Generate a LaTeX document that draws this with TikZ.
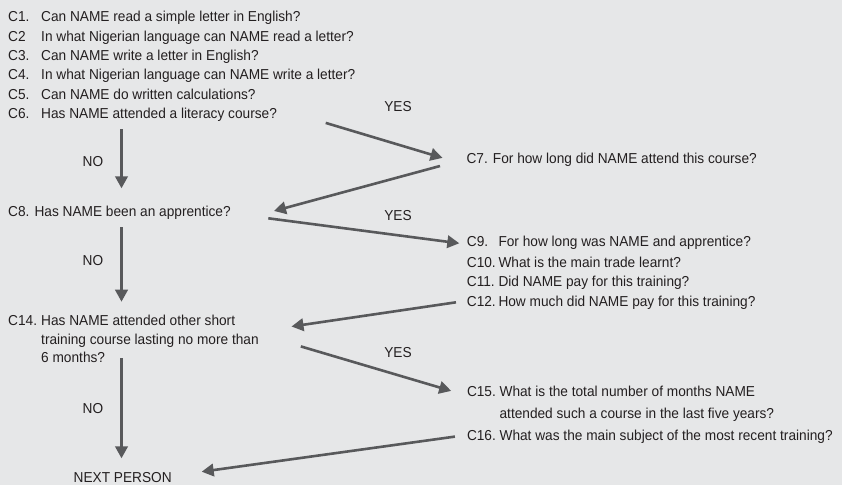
\documentclass[tikz,border=0pt]{standalone}
\usepackage{fontspec}
\setmainfont{Liberation Sans}[FakeStretch=0.95]
\usetikzlibrary{arrows.meta}
\definecolor{bgc}{HTML}{E6E7E8}
\definecolor{txt}{HTML}{231F20}
\definecolor{arr}{HTML}{58595B}
\begin{document}
\begin{tikzpicture}[x=1pt,y=-1pt,
  q/.style={anchor=base west,inner sep=0pt,text=txt,font=\fontsize{14.4}{16}\selectfont},
  lab/.style={anchor=base,inner sep=0pt,text=txt,font=\fontsize{14.4}{16}\selectfont},
  flow/.style={draw=arr,line width=2.6pt,-{Triangle[length=12pt,width=12.5pt]}}]
\fill[bgc] (0,0) rectangle (842,485);
\useasboundingbox (0,0) rectangle (842,485);

% literacy questions (positions are baselines)
\node[q] (c1l) at (8,21.9) {C1.};  \node[q] (c1) at (41,21.9) {Can NAME read a simple letter in English?};
\node[q] (c2l) at (8,41.2) {C2};   \node[q] (c2) at (41,41.2) {In what Nigerian language can NAME read a letter?};
\node[q] (c3l) at (8,60.5) {C3.};  \node[q] (c3) at (41,60.5) {Can NAME write a letter in English?};
\node[q] (c4l) at (8,79.8) {C4.};  \node[q] (c4) at (41,79.8) {In what Nigerian language can NAME write a letter?};
\node[q] (c5l) at (8,99.1) {C5.};  \node[q] (c5) at (41,99.1) {Can NAME do written calculations?};
\node[q] (c6l) at (8,118.4) {C6.}; \node[q] (c6) at (41,118.4) {Has NAME attended a literacy course?};

\node[q] (c7) at (466.4,163.1) {C7. For how long did NAME attend this course?};
\node[q] (c8) at (8,216.9) {C8. Has NAME been an apprentice?};

% apprenticeship questions
\node[q] (c9l) at (466.7,246.9) {C9.};   \node[q] (c9) at (498.3,246.9) {For how long was NAME and apprentice?};
\node[q] (c10l) at (466.7,267.2) {C10.}; \node[q] (c10) at (498.3,267.2) {What is the main trade learnt?};
\node[q] (c11l) at (466.7,286.9) {C11.}; \node[q] (c11) at (498.3,286.9) {Did NAME pay for this training?};
\node[q] (c12l) at (466.7,306.2) {C12.}; \node[q] (c12) at (498.3,306.2) {How much did NAME pay for this training?};

% short training courses
\node[q] (c14l) at (8,325.2) {C14.}; \node[q] (c14) at (41,325.2) {Has NAME attended other short};
\node[q] (c14b) at (41,344.2) {training course lasting no more than};
\node[q] (c14c) at (41,362.2) {6 months?};

\node[q] (c15l) at (466.8,396.2) {C15.}; \node[q] (c15) at (499.4,396.2) {What is the total number of months NAME};
\node[q] (c15b) at (499.4,418.2) {attended such a course in the last five years?};
\node[q] (c16l) at (466.8,440.7) {C16.}; \node[q] (c16) at (499.4,440.7) {What was the main subject of the most recent training?};

\node[lab] (next) at (122.7,482.5) {NEXT PERSON};

% branch labels
\node[lab] (yes1) at (398,111.2) {YES};
\node[lab] (yes2) at (398,220.9) {YES};
\node[lab] (yes3) at (398,357.2) {YES};
\node[lab] (no1) at (93,166.9) {NO};
\node[lab] (no2) at (93,265.2) {NO};
\node[lab] (no3) at (93,413.2) {NO};

% connector ends
\coordinate (a1s) at (325.7,122.9); \coordinate (a1e) at (442.5,157.9);
\coordinate (a2s) at (440,166);     \coordinate (a2e) at (274,211);
\coordinate (a3s) at (268.3,218.3); \coordinate (a3e) at (459.3,243.3);
\coordinate (a4s) at (456,302.3);   \coordinate (a4e) at (291.5,326.5);
\coordinate (a5s) at (300.8,346.4); \coordinate (a5e) at (451.2,390.9);
\coordinate (a6s) at (454.9,436.6); \coordinate (a6e) at (201.7,471.7);
\coordinate (v1s) at (121.5,129.3); \coordinate (v1e) at (121.5,188.3);
\coordinate (v2s) at (121.5,227);   \coordinate (v2e) at (121.5,301.7);
\coordinate (v3s) at (121.5,358);   \coordinate (v3e) at (121.5,458.3);

\draw[flow] (a1s) -- (a1e);
\draw[flow] (a2s) -- (a2e);
\draw[flow] (a3s) -- (a3e);
\draw[flow] (a4s) -- (a4e);
\draw[flow] (a5s) -- (a5e);
\draw[flow] (a6s) -- (a6e);
\draw[flow] (v1s) -- (v1e);
\draw[flow] (v2s) -- (v2e);
\draw[flow] (v3s) -- (v3e);
\end{tikzpicture}
\end{document}
